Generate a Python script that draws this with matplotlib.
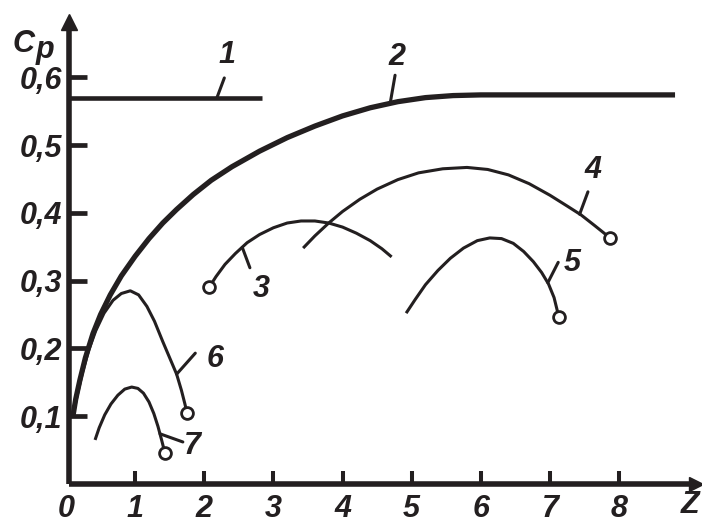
import matplotlib
matplotlib.use("Agg")
import matplotlib.pyplot as plt

# Cp(Z) curves for different rotor types
z1 = [0.05, 2.84]
cp1 = [0.569, 0.569]

z2 = [0.1, 0.14, 0.2, 0.28, 0.39, 0.5, 0.64, 0.8, 1.0, 1.2, 1.4, 1.6, 1.84, 2.1, 2.4,
      2.8, 3.2, 3.6, 4.0, 4.4, 4.8, 5.2, 5.6, 6.0, 8.81]
cp2 = [0.1, 0.125, 0.153, 0.186, 0.222, 0.25, 0.279, 0.307, 0.336, 0.362, 0.385, 0.405,
       0.427, 0.448, 0.468, 0.491, 0.511, 0.528, 0.543, 0.555, 0.564, 0.570, 0.573,
       0.574, 0.574]

z3 = [2.07, 2.17, 2.3, 2.45, 2.62, 2.8, 3.0, 3.2, 3.4, 3.6, 3.8, 4.0, 4.2, 4.4, 4.57, 4.71]
cp3 = [0.29, 0.306, 0.324, 0.34, 0.356, 0.368, 0.378, 0.385, 0.388, 0.388, 0.385, 0.379,
       0.37, 0.359, 0.347, 0.335]

z4 = [3.43, 3.6, 3.8, 4.0, 4.25, 4.5, 4.8, 5.1, 5.45, 5.8, 6.1, 6.4, 6.7, 7.0, 7.25,
      7.45, 7.65, 7.87]
cp4 = [0.348, 0.366, 0.385, 0.402, 0.42, 0.435, 0.449, 0.459, 0.465, 0.467, 0.464,
       0.456, 0.443, 0.426, 0.41, 0.397, 0.381, 0.363]

z5 = [4.92, 5.05, 5.2, 5.38, 5.56, 5.75, 5.95, 6.13, 6.3, 6.47, 6.62, 6.76, 6.88, 6.98,
      7.06, 7.13]
cp5 = [0.252, 0.272, 0.294, 0.315, 0.333, 0.348, 0.359, 0.363, 0.362, 0.355, 0.343,
       0.328, 0.312, 0.295, 0.275, 0.246]

z6 = [0.1, 0.16, 0.24, 0.33, 0.43, 0.55, 0.68, 0.8, 0.93, 1.05, 1.17, 1.28, 1.4, 1.5,
      1.6, 1.67, 1.72, 1.75]
cp6 = [0.1, 0.13, 0.165, 0.198, 0.226, 0.252, 0.271, 0.281, 0.285, 0.279, 0.262, 0.24,
       0.21, 0.186, 0.162, 0.138, 0.118, 0.105]

z7 = [0.42, 0.48, 0.56, 0.65, 0.75, 0.85, 0.95, 1.04, 1.12, 1.2, 1.27, 1.33, 1.38, 1.43]
cp7 = [0.065, 0.083, 0.102, 0.118, 0.131, 0.14, 0.143, 0.141, 0.134, 0.121, 0.104,
       0.085, 0.066, 0.046]

x_ticks = [0, 1, 2, 3, 4, 5, 6, 7, 8]
x_tick_labels = ["0", "1", "2", "3", "4", "5", "6", "7", "8"]
y_ticks = [0.1, 0.2, 0.3, 0.4, 0.5, 0.6]
y_tick_labels = ["0,1", "0,2", "0,3", "0,4", "0,5", "0,6"]

ink = "#231f20"
fs = 22
plt.rcParams["font.family"] = ["Liberation Sans", "DejaVu Sans"]
plt.rcParams["font.weight"] = "bold"
plt.rcParams["font.style"] = "italic"

fig = plt.figure(figsize=(7.02, 5.25), dpi=100)
ax = fig.add_axes([0, 0, 1, 1])
ax.set_xlim(-0.955, 9.2)
ax.set_ylim(-0.0605, 0.714)

# curves: (z, cp, linewidth, index of the open circle)
curves = [
    (z1, cp1, 3.3, None),
    (z2, cp2, 3.8, None),
    (z3, cp3, 2.2, 0),
    (z4, cp4, 2.2, -1),
    (z5, cp5, 2.2, -1),
    (z6, cp6, 2.2, -1),
    (z7, cp7, 2.2, -1),
]
for z, cp, lw, end in curves:
    ax.plot(z, cp, color=ink, lw=lw, solid_capstyle="butt", solid_joinstyle="round")
    if end is not None:
        ax.plot(z[end], cp[end], "o", ms=8.5, mfc="white", mec=ink, mew=2.0, zorder=5)

# curve numbers with short leader strokes: (text, curve point, leader end, text pos)
labels = [
    ("1", (2.18, 0.569), (2.29, 0.599), (2.33, 0.633)),
    ("2", (4.69, 0.562), (4.76, 0.603), (4.79, 0.630)),
    ("3", (2.55, 0.349), (2.66, 0.319), (2.82, 0.287)),
    ("4", (7.43, 0.398), (7.55, 0.431), (7.63, 0.463)),
    ("5", (6.97, 0.297), (7.12, 0.327), (7.32, 0.326)),
    ("6", (1.60, 0.162), (1.87, 0.193), (2.16, 0.184)),
    ("7", (1.36, 0.074), (1.69, 0.062), (1.83, 0.056)),
]
for txt, p0, p1, pt in labels:
    ax.annotate("", xy=p0, xytext=p1,
                arrowprops=dict(arrowstyle="-", color=ink, lw=2.2, shrinkA=0, shrinkB=0))
    ax.text(pt[0], pt[1], txt, fontsize=fs, color=ink, ha="center", va="center")

# axes drawn as arrows through the origin
for side in ["top", "right"]:
    ax.spines[side].set_visible(False)
ax.spines["left"].set_position(("data", 0.05))
ax.spines["left"].set_bounds(0, 0.685)
ax.spines["bottom"].set_position(("data", 0))
ax.spines["bottom"].set_bounds(0.05, 9.1)
for side in ["left", "bottom"]:
    ax.spines[side].set_linewidth(4)
    ax.spines[side].set_color(ink)
    ax.spines[side].set_capstyle("butt")
ax.plot(0.05, 0.681, "^", ms=11, color=ink, clip_on=False)
ax.plot(9.12, 0, ">", ms=10, color=ink, clip_on=False)

ax.set_xticks(x_ticks)
ax.set_xticklabels(x_tick_labels)
ax.set_yticks(y_ticks)
ax.set_yticklabels(y_tick_labels)
ax.tick_params(axis="x", direction="in", length=9.5, width=2.9, color=ink,
               labelsize=fs, labelcolor=ink, pad=7)
ax.tick_params(axis="y", direction="in", length=13, width=3.4, color=ink,
               labelsize=fs, labelcolor=ink, pad=5)
ax.xaxis.get_major_ticks()[0].tick1line.set_visible(False)

ax.text(-0.78, 0.637, "C", fontsize=fs, color=ink, ha="left", va="baseline")
ax.text(-0.44, 0.628, "p", fontsize=fs, color=ink, ha="left", va="baseline")
ax.text(9.03, -0.031, "Z", fontsize=fs, color=ink, ha="center", va="center")

fig.savefig("out.png", dpi=100)
